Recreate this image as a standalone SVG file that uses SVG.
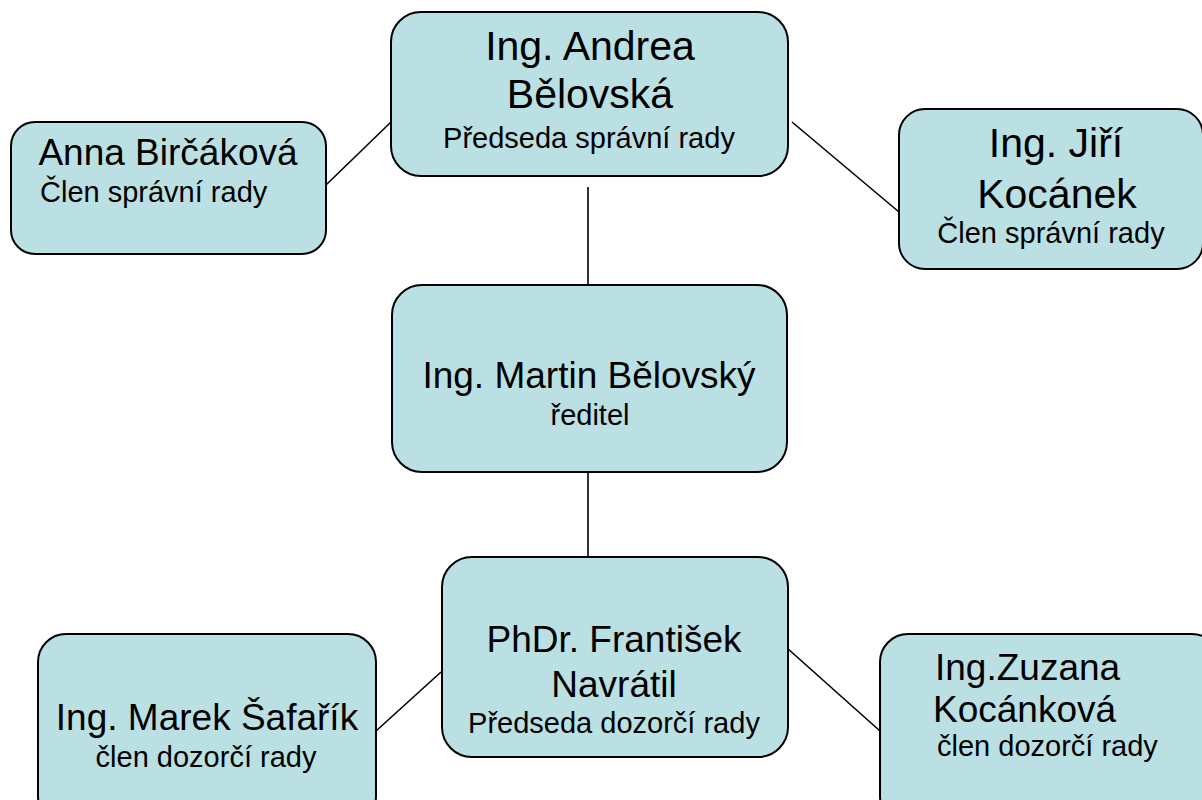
<svg xmlns="http://www.w3.org/2000/svg" width="1202" height="800" viewBox="0 0 1202 800">
<style>
.box{fill:#BBE0E3;stroke:#000;stroke-width:2}
.conn line{stroke:#000;stroke-width:1.6}
text{font-family:"Liberation Sans",Arial,sans-serif;fill:#000}
.big{font-size:41px}
.mid{font-size:37px}
.sub{font-size:29px}
.c{text-anchor:middle}
</style>
<rect width="1202" height="800" fill="#fff"/>
<g id="connectors" class="conn">
<line x1="326" y1="185" x2="391" y2="122"/>
<line x1="792" y1="122" x2="899" y2="212"/>
<line x1="588" y1="187" x2="588" y2="285"/>
<line x1="588" y1="472" x2="588" y2="557"/>
<line x1="376" y1="731" x2="441" y2="672"/>
<line x1="787" y1="648" x2="880" y2="731"/>
</g>
<g id="n-belovska">
<rect class="box" x="391" y="12" width="397" height="164" rx="30"/>
<text class="big c" x="590" y="60">Ing. Andrea</text>
<text class="big c" x="590" y="108">Bělovská</text>
<text class="sub c" x="589" y="148">Předseda správní rady</text>
</g>
<g id="n-bircakova">
<rect class="box" x="11" y="122" width="315" height="132" rx="24"/>
<text class="mid c" x="168" y="165">Anna Birčáková</text>
<text class="sub" x="40" y="202">Člen správní rady</text>
</g>
<g id="n-kocanek">
<rect class="box" x="899" y="109" width="304" height="160" rx="26"/>
<text class="big c" x="1056" y="157">Ing. Jiří</text>
<text class="big c" x="1057" y="208">Kocánek</text>
<text class="sub c" x="1051" y="243">Člen správní rady</text>
</g>
<g id="n-martin">
<rect class="box" x="392" y="285" width="395" height="187" rx="30"/>
<text class="mid c" x="589" y="388">Ing. Martin Bělovský</text>
<text class="sub c" x="590" y="425">ředitel</text>
</g>
<g id="n-navratil">
<rect class="box" x="442" y="557" width="346" height="200" rx="30"/>
<text class="mid c" x="614" y="652">PhDr. František</text>
<text class="mid c" x="614" y="697">Navrátil</text>
<text class="sub c" x="614" y="733">Předseda dozorčí rady</text>
</g>
<g id="n-safarik">
<rect class="box" x="38" y="634" width="338" height="190" rx="28"/>
<text class="mid c" x="207" y="730">Ing. Marek Šafařík</text>
<text class="sub c" x="206" y="767">člen dozorčí rady</text>
</g>
<g id="n-kocankova">
<rect class="box" x="880" y="634" width="340" height="190" rx="28"/>
<text class="mid" x="935" y="680">Ing.Zuzana</text>
<text class="mid" x="933" y="722">Kocánková</text>
<text class="sub" x="937" y="756">člen dozorčí rady</text>
</g>
</svg>
